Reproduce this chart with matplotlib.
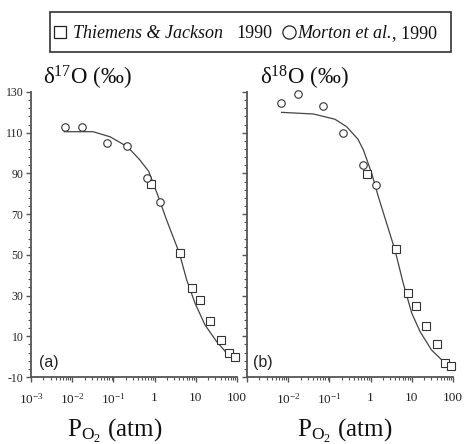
import matplotlib
matplotlib.use("Agg")
import matplotlib.pyplot as plt
from matplotlib.ticker import FixedLocator, LogLocator, NullFormatter
from matplotlib.patches import Rectangle

plt.rcParams['font.family'] = ['Liberation Serif', 'DejaVu Serif']
plt.rcParams['mathtext.fontset'] = 'custom'
plt.rcParams['mathtext.rm'] = 'Liberation Serif'
plt.rcParams['mathtext.it'] = 'Liberation Serif:italic'
plt.rcParams['axes.unicode_minus'] = False

# ---- data ----
sq_p = [0.80, 4.1, 8.3, 12.3, 22, 42, 65, 90]
sq_d17 = [84.7, 51.0, 33.9, 27.8, 17.7, 8.2, 2.0, 0.0]
sq_d18 = [89.7, 52.9, 31.1, 24.9, 15.2, 6.2, -3.3, -4.4]

ci_p = [0.0068, 0.017, 0.07, 0.21, 0.64, 1.35]
ci_d17 = [112.7, 112.7, 104.8, 103.5, 87.8, 75.8]
ci_d18 = [124.6, 129.0, 123.1, 109.9, 94.2, 84.2]

fit17_p = [0.0064, 0.032, 0.083, 0.22, 0.44, 0.72, 1.23, 1.96, 4.0, 6.0, 9.6, 16.7, 32, 62, 89]
fit17_d = [110.5, 110.5, 108.0, 103.1, 96.6, 91.0, 78.6, 67.1, 50.8, 37.7, 26.2, 15.6, 7.4, 0.8, -1.2]

fit18_p = [0.0069, 0.041, 0.137, 0.26, 0.49, 0.67, 1.06, 1.54, 2.45, 3.9, 6.2, 10, 15.9, 30, 65, 85]
fit18_d = [120.0, 119.2, 116.6, 113.0, 106.9, 101.5, 90.1, 78.6, 65.5, 52.4, 36.0, 21.3, 12.3, 3.3, -3.3, -4.9]

y_ticks = [-10, 10, 30, 50, 70, 90, 110, 130]
x_ticks = [1e-3, 1e-2, 1e-1, 1, 10, 100]
x_labels = [r'$\mathregular{10^{-3}}$', r'$\mathregular{10^{-2}}$', r'$\mathregular{10^{-1}}$', '1', '10', '100']

W, H = 471, 444
fig = plt.figure(figsize=(W / 100, H / 100), dpi=100)

def fx(x):
    return x / W

def fy(y):
    return 1 - y / H

axc = '#555555'

def make_ax(left_px, show_ylabels, show_first_x):
    ax = fig.add_axes([fx(left_px), fy(377), 206 / W, 285 / H])
    ax.set_xscale('log')
    ax.set_xlim(1e-3, 100)
    ax.set_ylim(-10, 130)
    for s in ['top', 'right']:
        ax.spines[s].set_visible(False)
    for s in ['left', 'bottom']:
        ax.spines[s].set_color(axc)
        ax.spines[s].set_linewidth(1.3)
    ax.yaxis.set_major_locator(FixedLocator(y_ticks))
    ax.yaxis.set_minor_locator(FixedLocator([v for v in range(-10, 131, 4)]))
    ax.xaxis.set_major_locator(FixedLocator(x_ticks))
    labs = list(x_labels)
    if not show_first_x:
        labs[0] = ''
    ax.set_xticklabels(labs)
    ax.xaxis.set_minor_locator(LogLocator(base=10, subs=range(2, 10), numticks=20))
    ax.xaxis.set_minor_formatter(NullFormatter())
    ax.tick_params(axis='both', which='major', direction='out', length=3.5, width=1.0,
                   color=axc, labelsize=8.5, labelcolor='#222222')
    ax.tick_params(axis='x', which='major', labelsize=9.5, pad=7)
    ax.tick_params(axis='both', which='minor', direction='out', length=2, width=0.8, color=axc)
    ax.tick_params(axis='y', which='major', pad=2)
    if not show_ylabels:
        ax.set_yticklabels([])
    ax.set_facecolor('none')
    return ax

ax1 = make_ax(31, True, True)
ax2 = make_ax(247, False, False)

lc = '#444444'
for ax, fp, fd, sd, cd in [(ax1, fit17_p, fit17_d, sq_d17, ci_d17),
                           (ax2, fit18_p, fit18_d, sq_d18, ci_d18)]:
    ax.plot(fp, fd, color=lc, lw=0.9, zorder=2)
    ax.plot(sq_p, sd, linestyle='none', marker='s', ms=5.6, mfc='white', mec='#333333', mew=0.8, zorder=3, clip_on=False)
    ax.plot(ci_p, cd, linestyle='none', marker='o', ms=5.4, mfc='white', mec='#333333', mew=0.8, zorder=3, clip_on=False)

# panel labels
fig.text(fx(39), fy(367), '(a)', family='Liberation Sans', fontsize=11.5, color='#222222')
fig.text(fx(253), fy(367), '(b)', family='Liberation Sans', fontsize=11.5, color='#222222')

# titles
fig.text(fx(43), fy(85), r'$\mathregular{\delta^{17}}$O (‰)', fontsize=16.5, color='#111111')
fig.text(fx(260), fy(85), r'$\mathregular{\delta^{18}}$O (‰)', fontsize=16.5, color='#111111')

# x labels
fig.text(fx(115), fy(437), r'$\mathregular{P_{O_2}}$ (atm)', fontsize=18, ha='center', color='#111111')
fig.text(fx(345), fy(437), r'$\mathregular{P_{O_2}}$ (atm)', fontsize=18, ha='center', color='#111111')

# legend box
fig.patches.append(Rectangle((fx(50), fy(52)), (451 - 50) / W, 40 / H, transform=fig.transFigure,
                             fill=False, edgecolor='#333333', lw=1.2))
fig.lines.append(plt.Line2D([fx(59.5)], [fy(32.5)], transform=fig.transFigure, marker='s', ms=9,
                            mfc='white', mec='#222222', mew=0.9, linestyle='none'))
fig.lines.append(plt.Line2D([fx(289)], [fy(32.5)], transform=fig.transFigure, marker='o', ms=9.5,
                            mfc='white', mec='#222222', mew=0.9, linestyle='none'))
fs = 13
fig.text(fx(73), fy(38), 'Thiemens & Jackson', style='italic', fontsize=fs, color='#111111')
fig.text(fx(236), fy(38), '1990', fontsize=fs, color='#111111')
fig.text(fx(297), fy(38), 'Morton et al.', style='italic', fontsize=fs, color='#111111')
fig.text(fx(392), fy(38), ', 1990', fontsize=fs, color='#111111')

fig.savefig('out.png', dpi=100)
